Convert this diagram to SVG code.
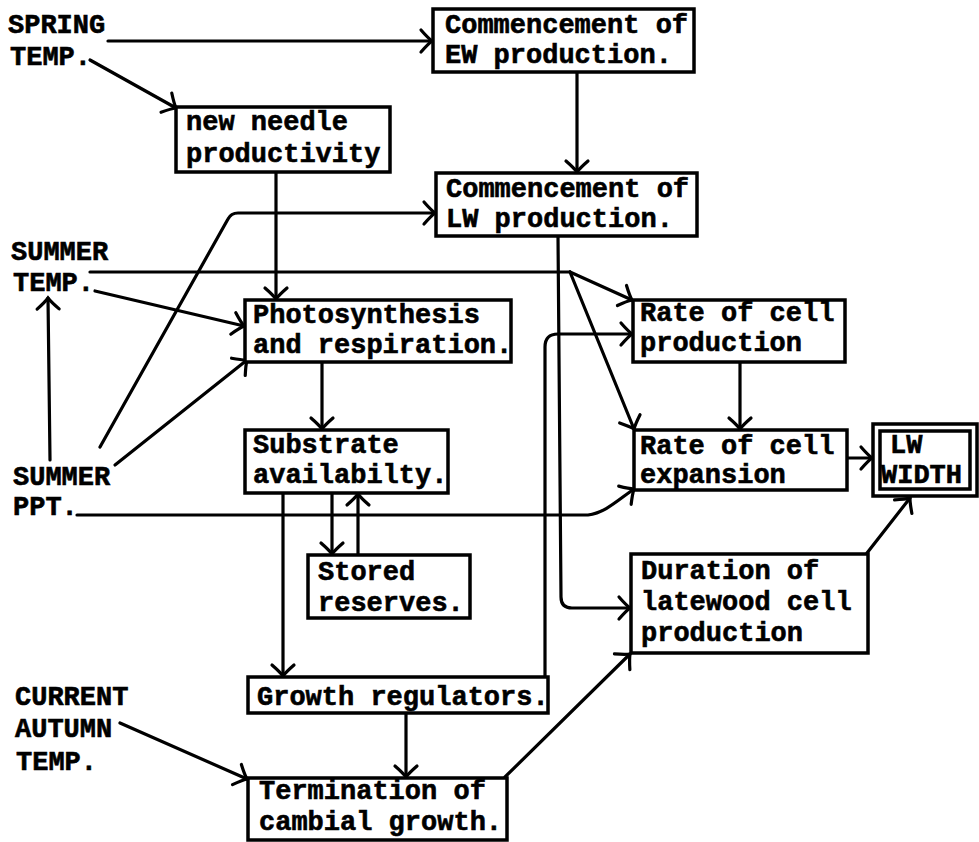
<svg xmlns="http://www.w3.org/2000/svg" width="979" height="842" viewBox="0 0 979 842">
  <defs>
    <style>
      .box { fill: #fff; stroke: #000; stroke-width: 3.5; }
      .t { font-family: "Liberation Mono", "DejaVu Sans Mono", monospace; font-weight: bold; font-size: 27px; fill: #000; stroke: #000; stroke-width: 0.6; }
      .c { fill: none; stroke: #000; stroke-width: 3.2; stroke-linejoin: round; stroke-linecap: round; }
      .a { marker-end: url(#ah); }
    </style>
    <marker id="ah" viewBox="-15 -15 30 30" markerWidth="30" markerHeight="30" refX="0" refY="0" orient="auto" markerUnits="userSpaceOnUse">
      <path d="M-11,-11 Q-4,-3 0,0 Q-4,3 -11,11" fill="none" stroke="#000" stroke-width="3.2" stroke-linecap="round"/>
    </marker>
  </defs>
  <rect width="979" height="842" fill="#fff"/>

  <!-- connectors -->
  <g id="connectors">
    <path class="c a" d="M108 41 L432 41"/>
    <path class="c a" d="M90 60 L176 108"/>
    <path class="c a" d="M276 172 L276 299"/>
    <path class="c a" d="M577 72 L577 172"/>
    <path class="c a" d="M100 447 L228 219 Q231 213 238 213 L435 213"/>
    <path class="c" d="M90 272 L570 272"/>
    <path class="c a" d="M570 272 L632 300"/>
    <path class="c a" d="M570 272 L634 429"/>
    <path class="c a" d="M95 291 L244 326"/>
    <path class="c a" d="M115 465 L247 360"/>
    <path class="c a" d="M50 460 L48 298"/>
    <path class="c a" d="M77 515 L588 515 C605 513 618 500 634 489"/>
    <path class="c a" d="M322 362 L322 429"/>
    <path class="c a" d="M283 493 L283 676"/>
    <path class="c a" d="M332 493 L332 554"/>
    <path class="c a" d="M358 555 L358 494"/>
    <path class="c a" d="M406 713 L406 777"/>
    <path class="c a" d="M120 723 L247 779"/>
    <path class="c a" d="M545 677 L545 347 Q545 334 558 334 L632 334"/>
    <path class="c a" d="M558 236 L561 597 Q561 608 572 608 L630 608"/>
    <path class="c a" d="M505 777 L630 654"/>
    <path class="c a" d="M867 553 L910 498"/>
    <path class="c a" d="M740 362 L740 429"/>
    <path class="c a" d="M847 458 L872 458"/>
  </g>

  <!-- free-standing driver labels -->
  <g id="spring-temp">
    <text class="t" x="8" y="33">SPRING</text>
    <text class="t" x="10" y="65">TEMP.</text>
  </g>
  <g id="summer-temp">
    <text class="t" x="11" y="260">SUMMER</text>
    <text class="t" x="13" y="291">TEMP.</text>
  </g>
  <g id="summer-ppt">
    <text class="t" x="13" y="485">SUMMER</text>
    <text class="t" x="13" y="515">PPT.</text>
  </g>
  <g id="autumn-temp">
    <text class="t" x="15" y="705">CURRENT</text>
    <text class="t" x="15" y="737">AUTUMN</text>
    <text class="t" x="16" y="770">TEMP.</text>
  </g>

  <!-- process boxes -->
  <g id="ew-commencement">
    <rect class="box" x="433" y="9" width="261" height="63"/>
    <text class="t" x="445" y="33">Commencement of</text>
    <text class="t" x="445" y="63">EW production.</text>
  </g>
  <g id="lw-commencement">
    <rect class="box" x="436" y="173" width="261" height="63"/>
    <text class="t" x="446" y="197">Commencement of</text>
    <text class="t" x="446" y="227">LW production.</text>
  </g>
  <g id="needle">
    <rect class="box" x="176" y="107" width="214" height="65"/>
    <text class="t" x="186" y="130">new needle</text>
    <text class="t" x="186" y="162">productivity</text>
  </g>
  <g id="photosynthesis">
    <rect class="box" x="245" y="300" width="266" height="62"/>
    <text class="t" x="253" y="323">Photosynthesis</text>
    <text class="t" x="253" y="353">and respiration.</text>
  </g>
  <g id="substrate">
    <rect class="box" x="245" y="430" width="203" height="63"/>
    <text class="t" x="253" y="453">Substrate</text>
    <text class="t" x="253" y="483">availabilty.</text>
  </g>
  <g id="stored">
    <rect class="box" x="308" y="555" width="162" height="63"/>
    <text class="t" x="318" y="580">Stored</text>
    <text class="t" x="318" y="611">reserves.</text>
  </g>
  <g id="growth-regulators">
    <rect class="box" x="248" y="677" width="300" height="36"/>
    <text class="t" x="257" y="705">Growth regulators.</text>
  </g>
  <g id="termination">
    <rect class="box" x="248" y="778" width="259" height="62"/>
    <text class="t" x="259" y="799">Termination of</text>
    <text class="t" x="259" y="830">cambial growth.</text>
  </g>
  <g id="cell-production">
    <rect class="box" x="633" y="300" width="212" height="62"/>
    <text class="t" x="640" y="321">Rate of cell</text>
    <text class="t" x="640" y="351">production</text>
  </g>
  <g id="cell-expansion">
    <rect class="box" x="634" y="430" width="213" height="60"/>
    <text class="t" x="640" y="454">Rate of cell</text>
    <text class="t" x="640" y="483">expansion</text>
  </g>
  <g id="latewood-duration">
    <rect class="box" x="631" y="554" width="237" height="99"/>
    <text class="t" x="641" y="579">Duration of</text>
    <text class="t" x="641" y="610">latewood cell</text>
    <text class="t" x="641" y="641">production</text>
  </g>
  <g id="lw-width">
    <rect class="box" x="873" y="424" width="104" height="72"/>
    <rect class="box" x="880" y="431" width="90" height="58" stroke-width="2.5"/>
    <text class="t" x="890" y="453">LW</text>
    <text class="t" x="881" y="483">WIDTH</text>
  </g>
</svg>
